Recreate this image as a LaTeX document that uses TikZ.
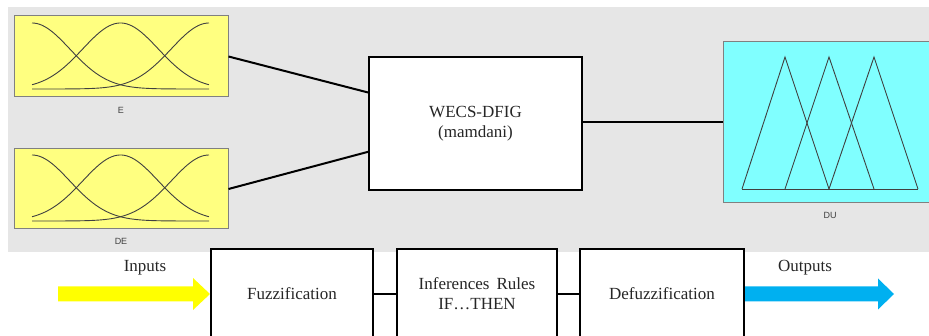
\documentclass[tikz,border=0pt]{standalone}
\usepackage{fontspec}
\setmainfont{Liberation Serif}
\newfontfamily\mflabelfont{Liberation Sans}
\usetikzlibrary{calc,positioning}
\definecolor{panelgray}{RGB}{230,230,230}
\definecolor{mfyellow}{RGB}{255,255,128}
\definecolor{mfcyan}{RGB}{128,255,255}
\definecolor{inarrow}{RGB}{255,255,0}
\definecolor{outarrow}{RGB}{0,176,240}
\definecolor{txtgray}{RGB}{38,38,38}

\begin{document}
\begin{tikzpicture}[x=1pt,y=-1pt]
\tikzstyle{mfbox}=[draw=gray,line width=1pt,inner sep=0pt]
\tikzstyle{mfcurve}=[line width=.9pt,draw=black!75]
\tikzstyle{mflabel}=[font=\mflabelfont\fontsize{9}{10}\selectfont,text=black!75]
\tikzstyle{stage}=[draw,line width=2pt,fill=white,minimum height=90,align=center,
  text=txtgray,font=\fontsize{17}{20}\selectfont]
\tikzstyle{wire}=[line width=2pt]
\clip (0,0) rectangle (929,336);
% ========= fis editor panel
\fill[panelgray] (8,7) rectangle (929,252);

\node (mfE) [mfbox, fill=mfyellow, minimum width=214, minimum height=81] at (121,56.5) {};
\node (mfDE) [mfbox, fill=mfyellow, minimum width=214, minimum height=80] at (121,189) {};
\node (mfDU) [mfbox, fill=mfcyan, minimum width=206, minimum height=161] at (826,122.5) {};

\node (labE) [mflabel] at (121,110) {E};
\node (labDE) [mflabel] at (121,241) {DE};
\node (labDU) [mflabel] at (830,215) {DU};

% gaussian sets
\foreach \base in {89,221}
  \foreach \c in {32,120.5,209}
    \draw[mfcurve] plot[domain=32:209,samples=70,smooth] (\x,{\base-66*exp(-0.5*((\x-\c)/37.8)^2)});
% triangular sets
\draw[mfcurve] (742,189) -- (918,189);
\foreach \a/\b/\c in {742/785/829,785/829/874,829/874/918}
  \draw[mfcurve] (\a,189) -- (\b,57) -- (\c,189);

\node (sys) [stage, line width=1.8pt, minimum width=213, minimum height=133] at (475.5,123.5) {WECS-DFIG\\(mamdani)};
% ====== connections
\draw[wire] (mfE.east) -- ($(sys.north west)!0.27!(sys.south west)$);
\draw[wire] (mfDE.east) -- ($(sys.north west)!0.71!(sys.south west)$);
\draw[wire] (sys.east |- mfDU.west) -- (mfDU.west);

% ========= stages
\node (fuzz) [stage, minimum width=162] at (292,294) {Fuzzification};
\node (infer) [stage, minimum width=160] at (477,294) {Inferences\, Rules\\IF\dots THEN};
\node (defuzz) [stage, minimum width=164] at (662,294) {Defuzzification};
\draw[wire] (fuzz) -- (infer);
\draw[wire] (infer) -- (defuzz);

%% ===== in / out
\fill[inarrow] (fuzz.west) -- ++(-17,-16) -- ++(0,8.5) -- ++(-135,0) -- ++(0,15) -- ++(135,0) -- ++(0,8.5) -- cycle;
\fill[outarrow] (defuzz.east) ++(0,-7.5) -- ++(133,0) -- ++(0,-8) -- ++(16,15.5) -- ++(-16,15.5) -- ++(0,-8) -- ++(-133,0) -- cycle;
\node (inputs) [text=txtgray, font=\fontsize{17}{20}\selectfont] at (145,268) {Inputs};
\node (outputs) [text=txtgray, font=\fontsize{17}{20}\selectfont] at (805,268) {Outputs};
\end{tikzpicture}
\end{document}
